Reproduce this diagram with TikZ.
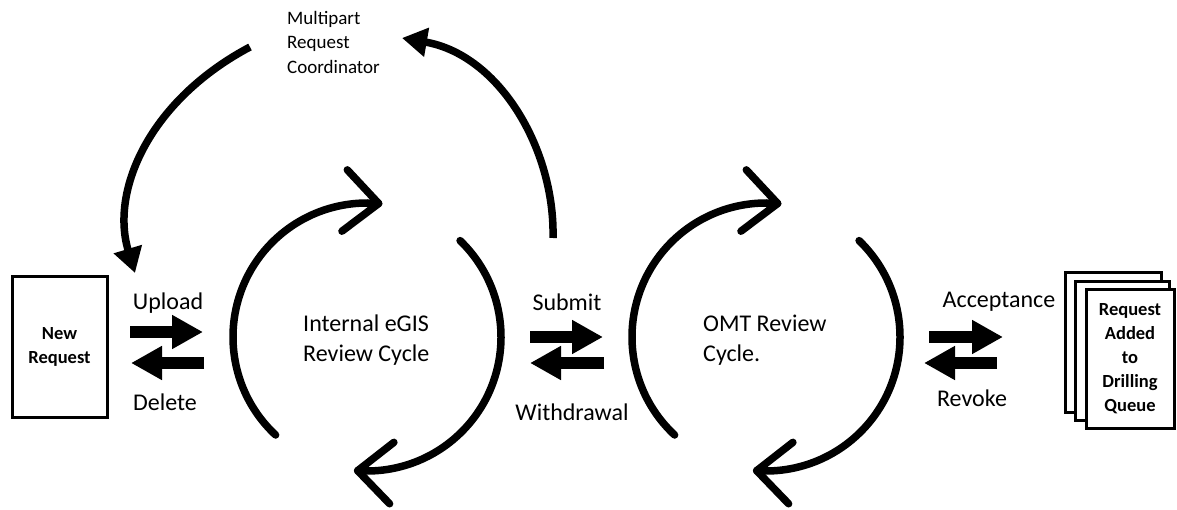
\documentclass[tikz,border=0pt]{standalone}
\usepackage{fontspec}
\setmainfont{Carlito}
\usetikzlibrary{arrows.meta,calc}

\tikzset{
  lbl/.style={font=\fontsize{24}{30}\selectfont, inner sep=0pt},
  cyctext/.style={font=\fontsize{24}{30}\selectfont, align=left, inner sep=0pt, anchor=west},
  smalltext/.style={font=\fontsize{19}{24.5}\selectfont, align=left, inner sep=0pt, anchor=west},
  docbox/.style={draw, line width=3pt, fill=white, inner sep=0pt},
  doctext/.style={font=\bfseries\fontsize{18.5}{24}\selectfont, align=center, inner sep=0pt},
  blockarrow/.style={line width=12pt, -{Triangle[length=31pt,width=32pt]}},
  bigarrow/.style={line width=7.5pt, -{Triangle[length=25pt,width=28pt]}},
  cycarc/.style={line width=7.5pt, line cap=round},
  chevron/.style={line width=7.5pt, line cap=round, line join=round},
}

% an open chevron head at the named tip, arms at the two given angles
\newcommand{\chevronhead}[3]{%
  \draw[chevron] ($(#1)+(#2:46)$) -- (#1) -- ($(#1)+(#3:46)$);}

\begin{document}
\begin{tikzpicture}[x=1pt,y=1pt]
\useasboundingbox (0,0) rectangle (1177,-510);

% ---- new request box ----
\node[docbox, minimum width=95pt, minimum height=140pt] (newreq) at (59.5,-347) {};
\node[doctext] (newreqtxt) at (newreq.center) {New\\Request};

% ---- upload / delete ----
\coordinate (upA) at (130,-332);
\coordinate (upB) at (203,-332);
\coordinate (delA) at (204,-363);
\coordinate (delB) at (131,-363);
\draw[blockarrow] (upA) -- (upB);
\draw[blockarrow] (delA) -- (delB);
\node[lbl] (upload) at (168,-303) {Upload};
\node[lbl] (delete) at (165,-402) {Delete};

% ---- internal review cycle ----
\coordinate (c1) at (367,-337);
\draw[cycarc] ($(c1)+(227:134)$) arc[start angle=227, end angle=85, radius=134] coordinate (c1top);
\draw[cycarc] ($(c1)+(46:134)$) arc[start angle=46, end angle=-94, radius=134] coordinate (c1bot);
\chevronhead{c1top}{133}{217}
\chevronhead{c1bot}{38}{-46}
\node[cyctext] (c1txt) at (303,-340) {Internal eGIS\\Review Cycle};

% ---- submit / withdrawal ----
\coordinate (subA) at (530,-337);
\coordinate (subB) at (603,-337);
\coordinate (witA) at (604,-363);
\coordinate (witB) at (530,-363);
\draw[blockarrow] (subA) -- (subB);
\draw[blockarrow] (witA) -- (witB);
\node[lbl] (submit) at (567,-302) {Submit};
\node[lbl] (withdrawal) at (572,-412) {Withdrawal};

% ---- OMT review cycle ----
\coordinate (c2) at (766,-337);
\draw[cycarc] ($(c2)+(227:134)$) arc[start angle=227, end angle=85, radius=134] coordinate (c2top);
\draw[cycarc] ($(c2)+(46:134)$) arc[start angle=46, end angle=-94, radius=134] coordinate (c2bot);
\chevronhead{c2top}{133}{217}
\chevronhead{c2bot}{38}{-46}
\node[cyctext] (c2txt) at (703,-340) {OMT Review\\Cycle.};

% ---- acceptance / revoke ----
\coordinate (accA) at (929,-337);
\coordinate (accB) at (1003,-337);
\coordinate (revA) at (997,-363);
\coordinate (revB) at (924,-363);
\draw[blockarrow] (accA) -- (accB);
\draw[blockarrow] (revA) -- (revB);
\node[lbl] (accept) at (999,-302) {Acceptance};
\node[lbl] (revoke) at (972,-398) {Revoke};

% ---- drilling queue stack ----
\node[docbox, minimum width=96pt, minimum height=139pt] (q3) at (1113,-342.5) {};
\node[docbox, minimum width=94pt, minimum height=138pt] (q2) at (1122,-351) {};
\node[docbox, minimum width=88pt, minimum height=138pt] (q1) at (1130,-359) {};
\node[doctext] (queue) at (q1.center) {Request\\Added\\to\\Drilling\\Queue};

% ---- multipart coordinator loop ----
\node[smalltext] (mrc) at (287,-42) {Multipart\\Request\\Coordinator};
\coordinate (mA) at (250,-47);
\coordinate (mB) at (135,-273);
\coordinate (sA) at (553,-238);
\coordinate (sB) at (402,-38);
\draw[bigarrow] (mA) .. controls (150,-100) and (110,-190) .. (mB);
\draw[bigarrow] (sA) .. controls (555,-150) and (500,-55) .. (sB);
\end{tikzpicture}
\end{document}
